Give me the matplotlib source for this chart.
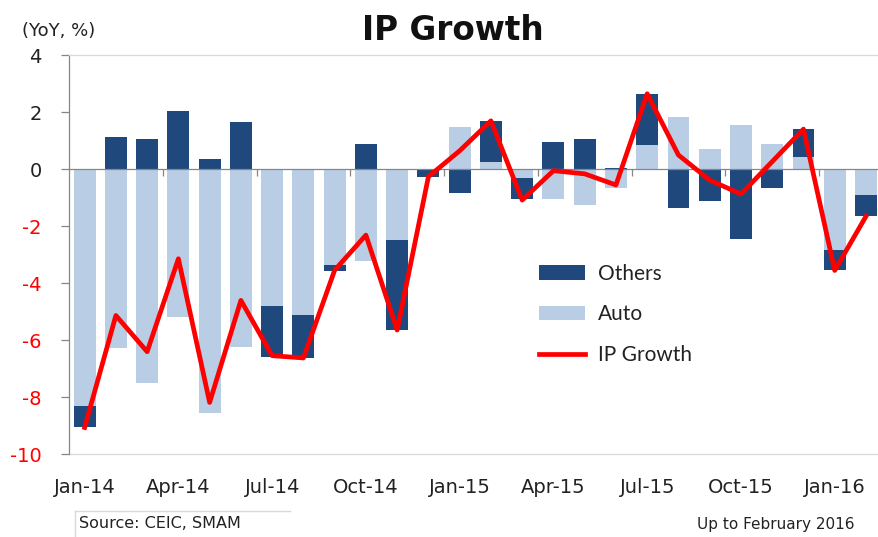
import numpy as np
import matplotlib
matplotlib.use("Agg")
import matplotlib.pyplot as plt
from matplotlib.ticker import FixedLocator

months = ["Jan-14", "Feb-14", "Mar-14", "Apr-14", "May-14", "Jun-14", "Jul-14", "Aug-14",
          "Sep-14", "Oct-14", "Nov-14", "Dec-14", "Jan-15", "Feb-15", "Mar-15", "Apr-15",
          "May-15", "Jun-15", "Jul-15", "Aug-15", "Sep-15", "Oct-15", "Nov-15", "Dec-15",
          "Jan-16", "Feb-16"]
auto = [-8.33, -6.29, -7.51, -5.20, -8.56, -6.26, -4.81, -5.14, -3.38, -3.24, -2.50, 0.0,
        1.47, 0.26, -0.33, -1.07, -1.28, -0.65, 0.85, 1.81, 0.70, 1.55, 0.87, 0.41, -2.85, -0.92]
others = [-0.74, 1.14, 1.04, 2.02, 0.34, 1.64, -1.77, -1.49, -0.20, 0.88, -3.15, -0.28,
          -0.83, 1.43, -0.74, 0.96, 1.04, 0.05, 1.79, -1.38, -1.12, -2.46, -0.65, 0.99, -0.71, -0.74]
ip_growth = [-9.07, -5.14, -6.41, -3.15, -8.19, -4.61, -6.55, -6.63, -3.55, -2.32, -5.65, -0.27,
             0.64, 1.69, -1.09, -0.06, -0.17, -0.56, 2.64, 0.49, -0.39, -0.88, 0.26, 1.40, -3.56, -1.66]
xtick_labels = ["Jan-14", "Apr-14", "Jul-14", "Oct-14", "Jan-15", "Apr-15", "Jul-15", "Oct-15", "Jan-16"]
ytick_values = [4, 2, 0, -2, -4, -6, -8, -10]

DARK = "#1F497D"
LIGHT = "#B9CDE5"
RED = "#FF0000"
AXIS_GREY = "#868686"
BORDER_GREY = "#D9D9D9"

plt.rcParams["font.family"] = ["DejaVu Sans"]

fig = plt.figure(figsize=(8.79, 5.37), dpi=100)
W, H = 879, 537
left_px, right_px, top_px, bot_px = 69, 881.6, 55, 454
ax = fig.add_axes([left_px / W, 1 - bot_px / H, (right_px - left_px) / W, (bot_px - top_px) / H])

x = np.arange(len(months))
a = np.array(auto)
o = np.array(others)
same_sign = np.sign(a) == np.sign(o)
o_bottom = np.where(same_sign, a, 0.0)

b_auto = ax.bar(x, a, width=0.7, color=LIGHT, zorder=2, label="Auto")
b_oth = ax.bar(x, o, bottom=o_bottom, width=0.7, color=DARK, zorder=2, label="Others")
ln, = ax.plot(x, ip_growth, color=RED, lw=3.4, zorder=4, label="IP Growth")

ax.set_xlim(-0.5, len(months) - 0.5)
ax.set_ylim(-10, 4)

# spines
ax.spines["bottom"].set_position(("data", 0))
ax.spines["bottom"].set_color(AXIS_GREY)
ax.spines["bottom"].set_linewidth(0.9)
ax.spines["bottom"].set_zorder(3)
ax.spines["left"].set_color(AXIS_GREY)
ax.spines["left"].set_linewidth(0.9)
ax.spines["top"].set_color(BORDER_GREY)
ax.spines["top"].set_linewidth(0.9)
ax.spines["right"].set_visible(False)

# tick marks on the zero line between quarters
ax.set_xticks([])
ax.xaxis.set_minor_locator(FixedLocator(np.arange(2.5, len(months) - 1, 3)))
ax.tick_params(axis="x", which="minor", direction="out", length=5, width=0.9, color=AXIS_GREY,
               labelbottom=False)

# y axis
ax.set_yticks(ytick_values)
ax.set_yticklabels([str(v) for v in ytick_values])
ax.tick_params(axis="y", direction="out", length=5.5, width=0.9, color=AXIS_GREY, pad=14,
               labelsize=14)
for lab, v in zip(ax.get_yticklabels(), ytick_values):
    lab.set_color(RED if v < 0 else "#222222")

# bottom labels axis
sec = ax.secondary_xaxis(0.0)
sec.set_xticks(np.arange(0, len(months), 3))
sec.set_xticklabels(xtick_labels)
sec.tick_params(length=0, pad=17, labelsize=14, labelcolor="#222222")
sec.spines["bottom"].set_color(BORDER_GREY)
sec.spines["bottom"].set_linewidth(0.9)

# title and notes
fig.text(452.5 / W, 1 - 30 / H, "IP Growth", ha="center", va="center", fontsize=23.5,
         fontweight="bold", color="#111111")
fig.text(22 / W, 1 - 31 / H, "(YoY, %)", ha="left", va="center", fontsize=13, color="#222222")
fig.text(79 / W, 1 - 523 / H, "Source: CEIC, SMAM", ha="left", va="center", fontsize=11.5,
         color="#222222")
fig.text(855 / W, 1 - 525 / H, "Up to February 2016", ha="right", va="center", fontsize=11,
         color="#222222")
fig.add_artist(plt.Line2D([75 / W, 290 / W], [1 - 511 / H, 1 - 511 / H], color=BORDER_GREY, lw=1))
fig.add_artist(plt.Line2D([75 / W, 75 / W], [1 - 511 / H, 0], color=BORDER_GREY, lw=1))

leg = ax.legend(handles=[b_oth, b_auto, ln], labels=["Others", "Auto", "IP Growth"],
                loc="upper left", bbox_to_anchor=(539 / W, 1 - 264 / H),
                bbox_transform=fig.transFigure, frameon=False,
                prop={"family": "Lato", "size": 15}, handlelength=2.2, handleheight=0.7,
                handletextpad=0.62, labelspacing=0.98, borderpad=0, borderaxespad=0)
for t in leg.get_texts():
    t.set_color("#222222")

fig.savefig("out.png", dpi=100)
